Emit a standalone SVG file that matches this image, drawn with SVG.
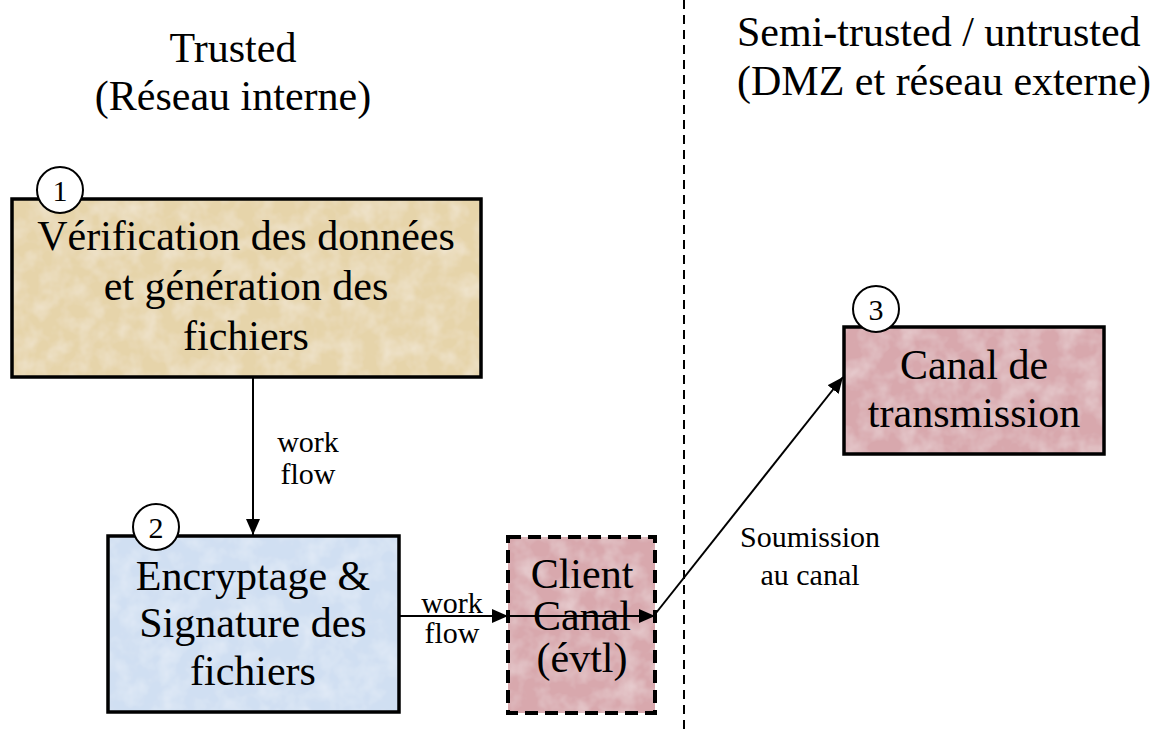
<svg xmlns="http://www.w3.org/2000/svg" width="1158" height="729" viewBox="0 0 1158 729">
  <style>
    text { font-family: "Liberation Serif", "Times New Roman", serif; fill: #000; }
    .big { font-size: 42px; }
    .small { font-size: 30px; }
    .c { text-anchor: middle; }
    .box { stroke: #000; stroke-width: 3.5; }
    .tex { filter: url(#mottle); }
    .num { fill: #fff; stroke: #000; stroke-width: 2; }
    .conn { stroke: #000; stroke-width: 2; fill: none; }
  </style>
  <defs>
    <marker id="arrow" markerWidth="16" markerHeight="14" refX="16" refY="7" orient="auto" markerUnits="userSpaceOnUse">
      <path d="M0,0 L16,7 L0,14 Z" fill="#000"/>
    </marker>
    <filter id="mottle" x="0" y="0" width="100%" height="100%">
      <feTurbulence type="fractalNoise" baseFrequency="0.05" numOctaves="3" seed="7" result="n"/>
      <feColorMatrix in="n" type="matrix" values="0 0 0 0 1  0 0 0 0 1  0 0 0 0 1  0 0 0 -0.6 0.38" result="light"/>
      <feComposite in="light" in2="SourceGraphic" operator="in" result="lightIn"/>
      <feMerge>
        <feMergeNode in="SourceGraphic"/>
        <feMergeNode in="lightIn"/>
      </feMerge>
    </filter>
  </defs>
  <rect width="1158" height="729" fill="#fff"/>

  <g id="zone-divider">
    <line x1="684" y1="0" x2="684" y2="729" stroke="#000" stroke-width="2" stroke-dasharray="9 6"/>
  </g>

  <g id="header-trusted">
    <text class="big c" x="233" y="62">Trusted</text>
    <text class="big c" x="233" y="110">(Réseau interne)</text>
  </g>
  <g id="header-untrusted">
    <text class="big" x="737" y="46">Semi-trusted / untrusted</text>
    <text class="big" x="737" y="95">(DMZ et réseau externe)</text>
  </g>

  <g id="node1">
    <rect class="tex" x="12" y="199" width="469" height="178" fill="#e6d4aa"/>
    <rect class="box" x="12" y="199" width="469" height="178" fill="none"/>
    <text class="big c" x="246" y="250">Vérification des données</text>
    <text class="big c" x="246" y="300">et génération des</text>
    <text class="big c" x="246" y="350">fichiers</text>
    <circle class="num" cx="60" cy="190" r="23"/>
    <text class="small c" x="60" y="201">1</text>
  </g>

  <g id="node2">
    <rect class="tex" x="108" y="536" width="291" height="176" fill="#d0dff2"/>
    <rect class="box" x="108" y="536" width="291" height="176" fill="none"/>
    <text class="big c" x="253" y="590">Encryptage &amp;</text>
    <text class="big c" x="253" y="637">Signature des</text>
    <text class="big c" x="253" y="685">fichiers</text>
    <circle class="num" cx="156" cy="527" r="23"/>
    <text class="small c" x="156" y="538">2</text>
  </g>

  <g id="node-client">
    <rect class="tex" x="508" y="537" width="147" height="176" fill="#d8a8ad"/>
    <rect x="508" y="537" width="147" height="176" fill="none" stroke="#000" stroke-width="4" stroke-dasharray="13 7"/>
    <text class="big c" x="582" y="588">Client</text>
    <text class="big c" x="582" y="630">Canal</text>
    <text class="big c" x="582" y="672">(évtl)</text>
  </g>

  <g id="node3">
    <rect class="tex" x="844" y="327" width="260" height="127" fill="#d8a8ad"/>
    <rect class="box" x="844" y="327" width="260" height="127" fill="none"/>
    <text class="big c" x="974" y="379">Canal de</text>
    <text class="big c" x="974" y="427">transmission</text>
    <circle class="num" cx="876" cy="309" r="23"/>
    <text class="small c" x="876" y="320">3</text>
  </g>

  <g id="connectors">
    <line class="conn" x1="253" y1="377" x2="253" y2="535" marker-end="url(#arrow)"/>
    <text class="small c" x="308" y="452">work</text>
    <text class="small c" x="308" y="484">flow</text>

    <line class="conn" x1="399" y1="616" x2="508" y2="616" marker-end="url(#arrow)"/>
    <line class="conn" x1="508" y1="616" x2="655" y2="616" marker-end="url(#arrow)"/>
    <text class="small c" x="452" y="613">work</text>
    <text class="small c" x="452" y="643">flow</text>

    <line class="conn" x1="656" y1="613" x2="843" y2="377" marker-end="url(#arrow)"/>
    <text class="small c" x="810" y="547">Soumission</text>
    <text class="small c" x="810" y="585">au canal</text>
  </g>
</svg>
